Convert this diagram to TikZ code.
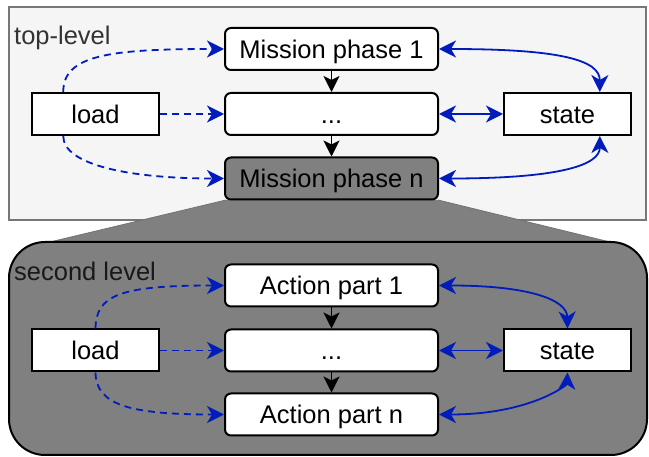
\documentclass[tikz,border=0pt]{standalone}
\usepackage{fontspec}
\setmainfont{Liberation Sans}
\usetikzlibrary{arrows.meta,calc}

\definecolor{flowblue}{HTML}{001DBC}
\definecolor{panelfill}{HTML}{F5F5F5}
\definecolor{paneledge}{HTML}{777777}
\definecolor{deepfill}{HTML}{808080}

\tikzset{
  tip/.style={-{Stealth[length=17pt,width=17pt,inset=5pt]}},
  block/.style={draw, line width=2pt, fill=white, minimum width=127pt,
    minimum height=42pt, inner sep=0pt, text height=19pt, text depth=0pt},
  phase/.style={block, rounded corners=6pt, minimum width=213pt},
  feed/.style={flowblue, line width=1.8pt, dash pattern=on 7pt off 5pt, tip},
  sync/.style={flowblue, line width=1.8pt,
    {Stealth[length=17pt,width=17pt,inset=5pt]}-{Stealth[length=17pt,width=17pt,inset=5pt]}},
  seq/.style={line width=1.8pt, -{Stealth[length=16pt,width=16pt,inset=4pt]}},
}

\begin{document}
\begin{tikzpicture}[x=1pt, y=-1pt, font=\fontsize{25.5}{30}\selectfont]
      \useasboundingbox (0,0) rectangle (649,457);

      % panels
      \draw[line width=1.8pt, draw=paneledge, fill=panelfill] (9,7) rectangle (646,220);
      \fill[deepfill] (226,200) -- (438,200) -- (610,242) -- (50,242) -- cycle;
      \draw[line width=0.8pt, draw=black!55] (226,200) -- (50,242);
      \draw[line width=0.8pt, draw=black!55] (438,200) -- (610,242);
      \draw[line width=2pt, fill=deepfill, rounded corners=36pt] (9,242) rectangle (647,455);

      \node[anchor=base west, inner sep=0pt, text=black!80] (toplbl) at (14,45) {top-level};
      \node[anchor=base west, inner sep=0pt, text=black!90] (seclbl) at (14,281) {second level};

      % top level
      \node[phase] (phase1) at (331.5,49) {Mission phase 1};
      \node[phase] (phasedots) at (331.5,114) {...};
      \node[phase, fill=deepfill] (phasen) at (331.5,178.5) {Mission phase n};
      \node[block] (load1) at (95.5,114) {load};
      \node[block] (state1) at (567.5,114) {state};
      \coordinate (loadtop) at ($(load1.north west)!.25!(load1.north east)$);
      \coordinate (loadbot) at ($(load1.south west)!.25!(load1.south east)$);
      \coordinate (statetop) at ($(state1.north west)!.75!(state1.north east)$);
      \coordinate (statebot) at ($(state1.south west)!.75!(state1.south east)$);

      \draw[seq] (phase1) -- (phasedots);
      \draw[seq] (phasedots) -- (phasen);
      \draw[feed] (loadtop) .. controls (63,55) and (110,49) .. (phase1.west);
      \draw[feed] (load1) -- (phasedots);
      \draw[feed] (loadbot) .. controls (63,165) and (130,178.5) .. (phasen.west);
      \draw[sync] (phase1.east) .. controls (560,49) and (600,60) .. (statetop);
      \draw[sync] (phasedots) -- (state1);
      \draw[sync] (phasen.east) .. controls (560,178.5) and (600,165) .. (statebot);

      % second level
      \node[phase] (part1) at (331.5,285.5) {Action part 1};
      \node[phase] (partdots) at (331.5,350.5) {...};
      \node[phase] (partn) at (331.5,414.5) {Action part n};
      \node[block] (load2) at (95.5,350.5) {load};
      \node[block] (state2) at (567.5,350.5) {state};

      \draw[seq] (part1) -- (partdots);
      \draw[seq] (partdots) -- (partn);
      \draw[feed] (load2.north) .. controls (96,295) and (120,285.5) .. (part1.west);
      \draw[feed] (load2) -- (partdots);
      \draw[feed] (load2.south) .. controls (96,405) and (130,414.5) .. (partn.west);
      \draw[sync] (part1.east) .. controls (530,285.5) and (567,300) .. (state2.north);
      \draw[sync] (partdots) -- (state2);
      \draw[sync] (partn.east) .. controls (530,414.5) and (567,385) .. (state2.south);
\end{tikzpicture}
\end{document}
